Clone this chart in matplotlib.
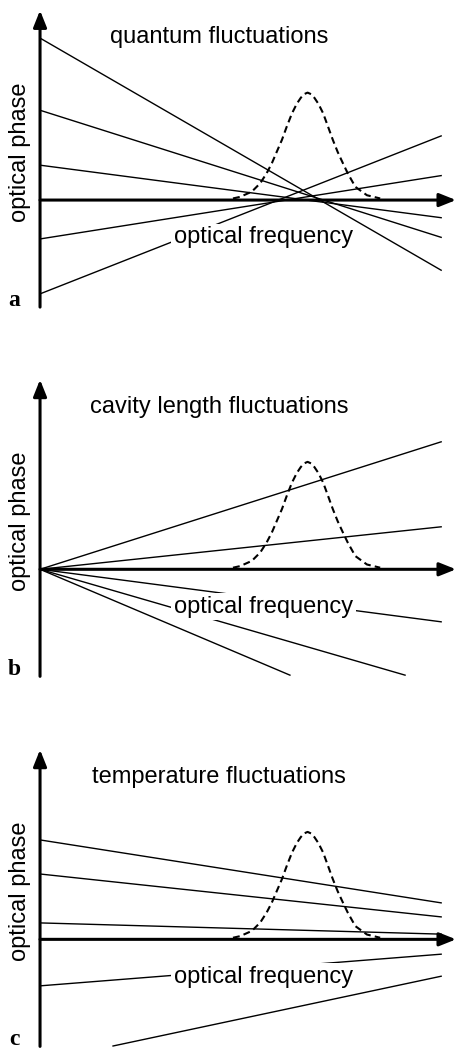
# Three schematic panels: optical phase vs optical frequency
import matplotlib.pyplot as plt

plt.rcParams['font.family'] = ['Liberation Sans', 'DejaVu Sans']

# mode lines: (x0, y0, x1, y1) in plot units, x-axis at y=0, y-axis at x=0
lines_a = [(0, 4.04, 10, -1.75),
           (0, 2.24, 10, -0.93),
           (0, 0.87, 10, -0.44),
           (0, -0.97, 10, 0.61),
           (0, -2.34, 10, 1.60)]
lines_b = [(0, 0, 10, 3.18),
           (0, 0, 10, 1.06),
           (0, 0, 10, -1.31),
           (0, 0, 9.10, -2.64),
           (0, 0, 6.23, -2.64)]
lines_c = [(0, 2.48, 10, 0.91),
           (0, 1.63, 10, 0.56),
           (0, 0.41, 10, 0.13),
           (0, -1.16, 10, -0.37),
           (1.82, -2.66, 10, -0.92)]

# gain profile (dashed)
gain_x = [4.81, 4.99, 5.28, 5.49, 5.65, 5.78, 5.90, 6.03, 6.15, 6.28, 6.40, 6.50, 6.58,
          6.67, 6.76, 6.84, 6.94, 7.06, 7.18, 7.30, 7.42, 7.55, 7.67, 7.86, 8.15, 8.48]
gain_y = [0.04, 0.08, 0.21, 0.42, 0.67, 0.92, 1.20, 1.50, 1.83, 2.16, 2.40, 2.55, 2.64,
          2.68, 2.64, 2.55, 2.40, 2.16, 1.83, 1.50, 1.20, 0.92, 0.67, 0.33, 0.12, 0.04]

titles = ['quantum fluctuations', 'cavity length fluctuations', 'temperature fluctuations']
letters = ['a', 'b', 'c']
# y-limits of each panel so that all three share one scale
ylims = [(-3.74, 4.99), (-3.26, 5.47), (-2.76, 5.97)]

fig = plt.figure(figsize=(4.56, 10.5), dpi=100)

for i, lines in enumerate([lines_a, lines_b, lines_c]):
    ax = fig.add_axes([0, (2 - i) / 3, 1, 1 / 3])
    ax.set_xlim(-0.998, 10.37)
    ax.set_ylim(*ylims[i])
    ax.axis('off')

    for x0, y0, x1, y1 in lines:
        ax.plot([x0, x1], [y0, y1], color='black', lw=1.0, zorder=2)

    ax.plot(gain_x, gain_y, color='black', lw=1.5, dashes=(3.3, 2.0), zorder=3)

    # axes with arrow heads
    arrow = dict(arrowstyle='-|>,head_length=0.5,head_width=0.2', lw=2.2,
                 color='black', shrinkA=0, shrinkB=0, mutation_scale=20)
    ax.annotate('', xy=(0, 4.73), xytext=(0, -2.67), arrowprops=arrow, zorder=5)
    ax.annotate('', xy=(10.37, 0), xytext=(0, 0), arrowprops=arrow, zorder=5)

    ax.text(4.46, 4.06, titles[i], fontsize=17, ha='center', va='center')
    ax.text(-0.51, 1.2, 'optical phase', fontsize=17, rotation=90,
            ha='center', va='center')
    ax.text(5.57, -0.93, 'optical frequency', fontsize=17, ha='center', va='center',
            zorder=4, bbox=dict(facecolor='white', edgecolor='none', pad=2))
    ax.text(-0.65, -2.5, letters[i], fontsize=17, fontweight='bold',
            family='Liberation Serif', ha='center', va='center')

fig.savefig('out.png', dpi=100)
